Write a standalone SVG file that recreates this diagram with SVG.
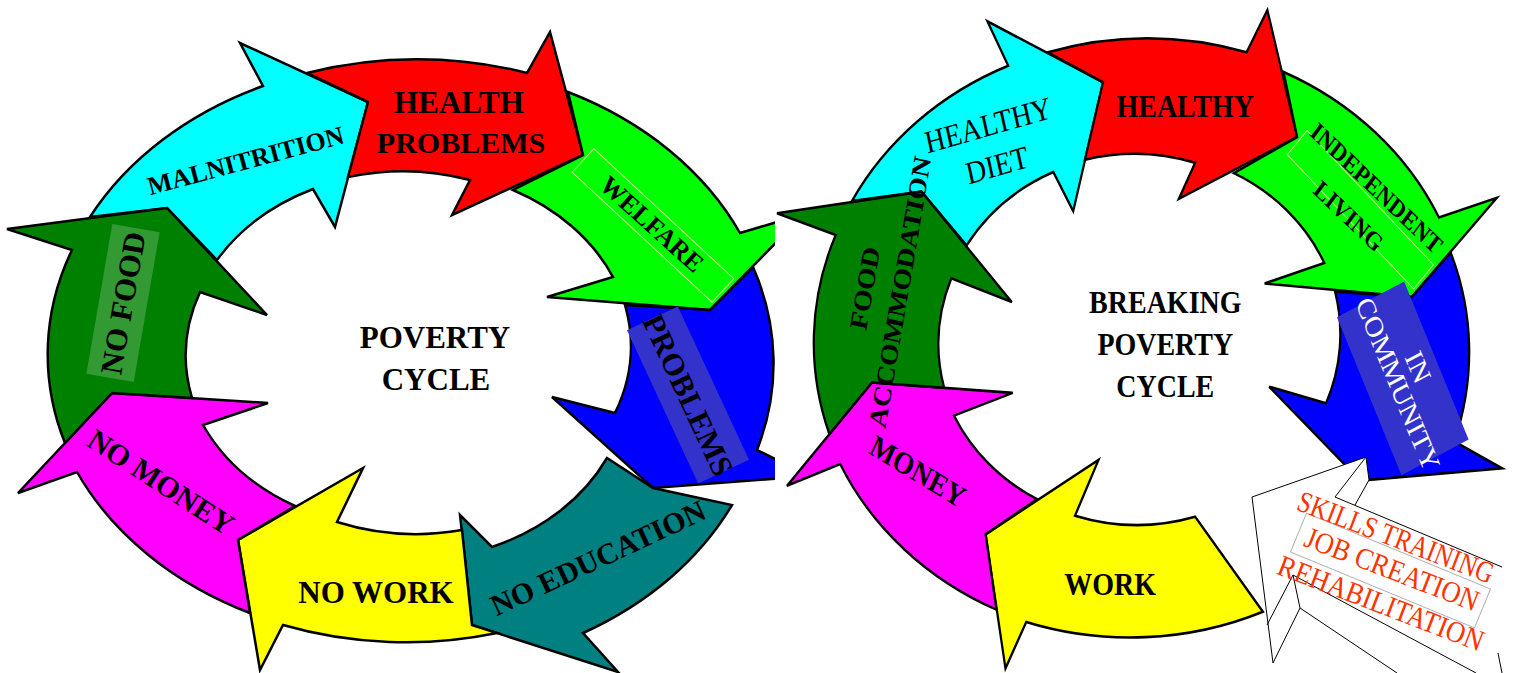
<svg xmlns="http://www.w3.org/2000/svg" width="1516" height="673" viewBox="0 0 1516 673">
<style>
  .arrow { stroke: #000; stroke-width: 2.5; stroke-linejoin: miter; }
  .c-cyan { fill: #00ffff; }
  .c-red { fill: #ff0000; }
  .c-lime { fill: #00ff00; }
  .c-blue { fill: #0000ff; }
  .c-teal { fill: #008080; }
  .c-yellow { fill: #ffff00; }
  .c-magenta { fill: #ff00ff; }
  .c-green { fill: #008000; }
  text { font-family: "Liberation Serif", "Times New Roman", serif; text-anchor: middle; }
  .b { font-weight: bold; fill: #000; }
  .r { font-weight: normal; fill: #000; }
  .w { font-weight: normal; fill: #fff; }
  .o { font-weight: normal; fill: #ff3300; }
  .band-blue { fill: #3333cc; }
  .band-green { fill: #339933; }
  .frame { fill: none; stroke: #c6ee8c; stroke-width: 1; }
  .frame-grey { fill: none; stroke: #b0b0b0; stroke-width: 1; }
  .edge { fill: none; stroke: #000; stroke-width: 1; }
</style>
<defs>
  <clipPath id="clip-left"><rect x="0" y="0" width="775" height="673"/></clipPath>
  <!-- ring segments: outer ellipse 362x290, inner ellipse 220x180 -->
  <path id="seg-cyan" d="M90,217 A362,290 0 0 1 263,86 L240,43 L368,102 L335,227 L313,189 A220,180 0 0 0 217,260 L167,208 Z"/>
  <path id="seg-red" d="M307,73 A362,290 0 0 1 527,73 L550,32 L583,155 L452,215 L470,180 A220,180 0 0 0 348,177 L368,102 Z"/>
  <path id="seg-lime" d="M568,92 A362,290 0 0 1 740,233 L804,214 L710,310 L547,297 L613,277 A220,180 0 0 0 513,190 L583,155 Z"/>
  <path id="seg-blue" d="M753,267 A362,290 0 0 1 757,450 L810,476 L653,488 L552,397 L615,413 A220,180 0 0 0 625,305 L710,310 Z"/>
  <path id="seg-teal" d="M732,505 A362,290 0 0 1 583,633 L618,672 L472,625 L460,515 L492,547 A220,180 0 0 0 607,458 L653,488 Z"/>
  <path id="seg-yellow" d="M497,633 A362,290 0 0 1 283,625 L260,670 L238,540 L363,468 L337,522 A220,180 0 0 0 462,530 L472,625 Z"/>
  <path id="seg-yellow-cut" d="M545,615 A362,290 0 0 1 283,625 L260,670 L238,540 L363,468 L337,522 A220,180 0 0 0 470,523 Z"/>
  <path id="seg-magenta" d="M250,613 A362,290 0 0 1 77,472 L18,493 L112,393 L268,403 L203,425 A220,180 0 0 0 295,506 L238,540 Z"/>
  <path id="seg-green" d="M65,443 A362,290 0 0 1 72,250 L7,229 L167,208 L267,315 L200,292 A220,180 0 0 0 192,398 L112,393 Z"/>
</defs>

<!-- ===== Poverty cycle ===== -->
<g id="poverty-cycle" clip-path="url(#clip-left)">
  <g id="malnutrition">
    <use href="#seg-cyan" class="arrow c-cyan"/>
    <text class="b" font-size="26" transform="translate(248,169) rotate(-15)">MALNITRITION</text>
  </g>
  <g id="health-problems">
    <use href="#seg-red" class="arrow c-red"/>
    <text class="b" font-size="31" x="459" y="113">HEALTH</text>
    <text class="b" font-size="30" x="461" y="153">PROBLEMS</text>
  </g>
  <g id="welfare">
    <use href="#seg-lime" class="arrow c-lime"/>
    <rect class="frame" x="-95.5" y="-16" width="191" height="32" transform="translate(653,225.5) rotate(42.9)"/>
    <text class="b" font-size="26" dy="0.34em" transform="translate(652,224) rotate(42)">WELFARE</text>
  </g>
  <g id="problems">
    <use href="#seg-blue" class="arrow c-blue"/>
    <rect class="band-blue" x="-84.5" y="-28" width="169" height="56" transform="translate(688,395) rotate(65.1)"/>
    <text class="b" font-size="31" dy="0.34em" transform="translate(688,395) rotate(65)">PROBLEMS</text>
  </g>
  <g id="no-education">
    <use href="#seg-teal" class="arrow c-teal"/>
    <text class="b" font-size="30" dy="0.34em" transform="translate(598,558) rotate(-25)">NO EDUCATION</text>
  </g>
  <g id="no-work">
    <use href="#seg-yellow" class="arrow c-yellow"/>
    <text class="b" font-size="31" x="376" y="603">NO WORK</text>
  </g>
  <g id="no-money">
    <use href="#seg-magenta" class="arrow c-magenta"/>
    <text class="b" font-size="30" dy="0.34em" transform="translate(161,482) rotate(33)">NO MONEY</text>
  </g>
  <g id="no-food">
    <use href="#seg-green" class="arrow c-green"/>
    <rect class="band-green" x="-76" y="-24" width="152" height="48" transform="translate(123,303) rotate(-80.2)"/>
    <text class="b" font-size="31" dy="0.34em" transform="translate(123,303) rotate(-80)">NO FOOD</text>
  </g>
  <g id="poverty-title">
    <text class="b" font-size="31" x="435" y="348">POVERTY</text>
    <text class="b" font-size="31" x="436" y="390">CYCLE</text>
  </g>
</g>

<!-- ===== Breaking poverty cycle (same ring, narrower frame) ===== -->
<g id="breaking-cycle" transform="matrix(0.903 0 0 1.032 770.7 -23)">
  <g id="healthy-diet">
    <use href="#seg-cyan" class="arrow c-cyan"/>
    <text class="r" font-size="31" dy="0.34em" transform="translate(240.6,143.4) rotate(-14)">HEALTHY</text>
    <text class="r" font-size="31" dy="0.34em" transform="translate(250.6,182.2) rotate(-14)">DIET</text>
  </g>
  <g id="healthy">
    <use href="#seg-red" class="arrow c-red"/>
    <text class="b" font-size="31" x="459" y="136">HEALTHY</text>
  </g>
  <g id="independent-living">
    <use href="#seg-lime" class="arrow c-lime"/>
    <rect class="frame" x="-95.5" y="-16" width="191" height="32" transform="translate(653,225.5) rotate(42.9)"/>
    <text class="b" font-size="25" dy="0.34em" transform="translate(671,204.5) rotate(40)">INDEPENDENT</text>
    <text class="b" font-size="25" dy="0.34em" transform="translate(640,231.6) rotate(40)">LIVING</text>
  </g>
  <g id="in-community">
    <use href="#seg-blue" class="arrow c-blue"/>
    <rect class="band-blue" x="-84.5" y="-41" width="169" height="82" transform="translate(700,389) rotate(65)"/>
    <text class="w" font-size="29" dy="0.34em" transform="translate(717,378) rotate(65)">IN</text>
    <text class="w" font-size="29" dy="0.34em" transform="translate(694.7,394.4) rotate(65)">COMMUNITY</text>
  </g>
  <g id="work">
    <use href="#seg-yellow-cut" class="arrow c-yellow"/>
    <text class="b" font-size="31" x="376" y="599">WORK</text>
  </g>
  <g id="money">
    <use href="#seg-magenta" class="arrow c-magenta"/>
    <text class="b" font-size="30" dy="0.34em" transform="translate(163,479) rotate(28)">MONEY</text>
  </g>
  <g id="food-accommodation">
    <use href="#seg-green" class="arrow c-green"/>
    <text class="b" font-size="28" dy="0.34em" transform="translate(104.3,301.4) rotate(-79)">FOOD</text>
    <text class="b" font-size="28" dy="0.34em" transform="translate(143.1,305.2) rotate(-79)">ACCOMMODATION</text>
  </g>
  <g id="breaking-title">
    <text class="b" font-size="31" x="437" y="325.6">BREAKING</text>
    <text class="b" font-size="31" x="437" y="366.3">POVERTY</text>
    <text class="b" font-size="31" x="437" y="407">CYCLE</text>
  </g>
</g>

<!-- ===== White block arrow with training labels ===== -->
<g id="skills-training">
  <path fill="#fff" d="M1252,497 L1366,457 L1369,480 L1355,505 L1503,567 L1503,673 L1397,673 L1300,608 L1273,663 Z"/>
  <g class="edge">
    <polyline points="1273,663 1252,497 1366,457 1369,480 1355,505"/>
    <line x1="1366" y1="457" x2="1335" y2="497"/>
    <line x1="1335" y1="497" x2="1502" y2="567"/>
    <line x1="1267" y1="625" x2="1293" y2="575"/>
    <line x1="1293" y1="575" x2="1300" y2="608"/>
    <line x1="1273" y1="663" x2="1300" y2="608"/>
    <line x1="1300" y1="608" x2="1397" y2="673"/>
    <line x1="1293" y1="575" x2="1476" y2="673"/>
    <line x1="1498" y1="653" x2="1502" y2="673"/>
  </g>
  <rect class="frame-grey" x="-99.5" y="-21" width="199" height="42" transform="translate(1390.5,570.5) rotate(22.4)"/>
  <text class="o" font-size="30" dy="0.34em" textLength="208" lengthAdjust="spacingAndGlyphs" transform="translate(1396,537) rotate(21)">SKILLS TRAINING</text>
  <text class="o" font-size="30" dy="0.34em" textLength="184" lengthAdjust="spacingAndGlyphs" transform="translate(1392,569) rotate(21)">JOB CREATION</text>
  <text class="o" font-size="30" dy="0.34em" textLength="218" lengthAdjust="spacingAndGlyphs" transform="translate(1381,603) rotate(21)">REHABILITATION</text>
</g>
</svg>
